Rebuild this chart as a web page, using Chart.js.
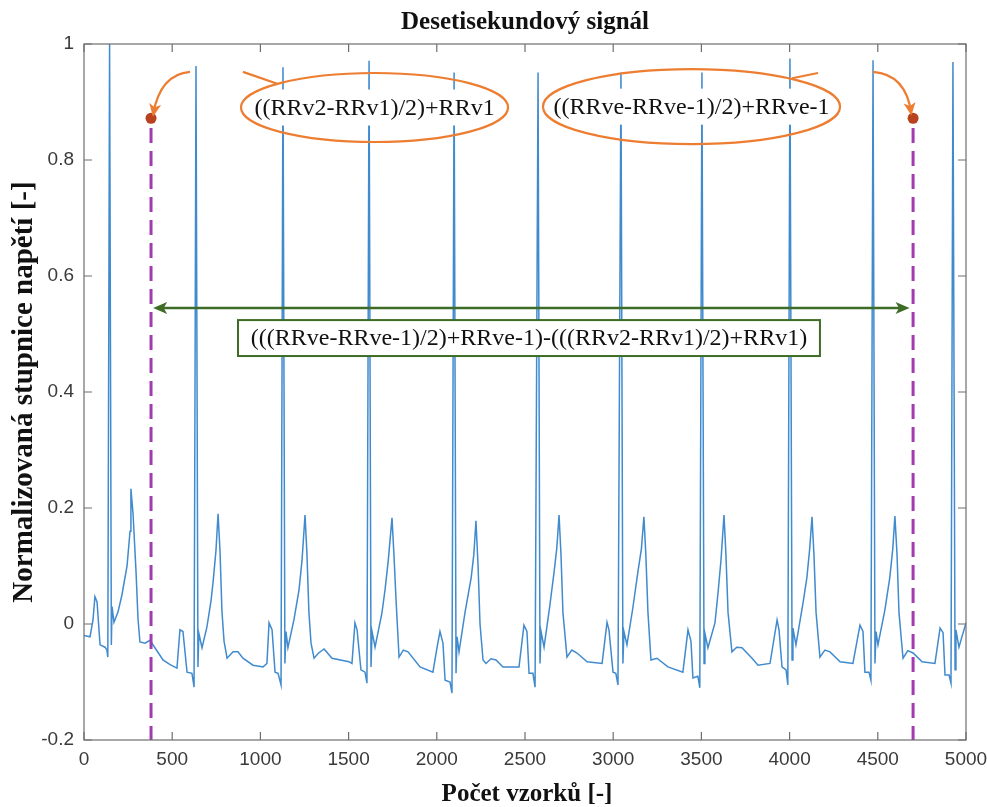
<!DOCTYPE html>
<html><head><meta charset="utf-8">
<script src="https://cdn.jsdelivr.net/npm/chart.js@4.4.0/dist/chart.umd.min.js"></script>
<style>html,body{margin:0;padding:0;background:#fff;}#wrap{width:987px;height:807px;}</style>
</head><body>
<div id="wrap"><canvas id="c" width="987" height="807"></canvas></div>
<script>
// ---- data ----
const sampleIdx = [
  0,34,51,62,74,91,119,130,135,145,155,159,170,193,215,244,261,266,278,295,306,317,346,374,402,448,488,527,544,561,584,612,624,
  635,646,651,669,697,720,731,748,760,771,782,794,811,845,873,901,958,1015,1037,1049,1066,1083,1100,1117,
  1128,1139,1145,1156,1190,1219,1236,1253,1264,1275,1287,1304,1330,1361,1406,1502,1519,1536,1548,1570,1593,1604,
  1616,1627,1633,1650,1689,1707,1725,1746,1757,1769,1786,1810,1837,1905,1978,2001,2018,2035,2047,2075,2086,
  2098,2109,2115,2126,2160,2195,2210,2222,2234,2245,2262,2279,2307,2336,2375,2466,2494,2511,2523,2545,2557,
  2574,2585,2591,2608,2640,2665,2680,2693,2704,2715,2738,2765,2795,2852,2937,2965,2976,2999,3015,3027,
  3044,3055,3061,3078,3110,3140,3160,3174,3185,3197,3214,3248,3310,3395,3424,3441,3452,3480,3491,
  3503,3515,3520,3537,3577,3594,3611,3628,3639,3651,3673,3700,3730,3787,3821,3889,3929,3940,3957,3980,3990,
  4002,4014,4019,4036,4076,4098,4114,4127,4138,4150,4172,4200,4229,4286,4359,4399,4416,4427,4450,4461,
  4473,4484,4490,4501,4540,4568,4585,4597,4609,4620,4643,4670,4700,4751,4824,4853,4870,4881,4904,4915,
  4926,4938,4943,4960,5000
];
const voltage = [
  -0.02,-0.022,0.007,0.047,0.038,-0.036,-0.04,-0.045,-0.057,1.0,-0.036,0.03,0.003,0.021,0.05,0.1,0.16,0.233,0.19,0.09,0.01,-0.031,-0.033,-0.028,-0.041,-0.062,-0.07,-0.076,-0.01,-0.013,-0.083,-0.085,-0.109,
  0.962,-0.074,-0.016,-0.041,-0.005,0.04,0.07,0.126,0.19,0.126,0.022,-0.03,-0.059,-0.048,-0.048,-0.059,-0.071,-0.074,-0.068,0.002,-0.01,-0.083,-0.085,-0.105,
  0.96,-0.068,-0.013,-0.041,0.007,0.059,0.11,0.188,0.12,0.02,-0.033,-0.059,-0.05,-0.043,-0.059,-0.065,-0.068,0.002,-0.01,-0.079,-0.083,-0.102,
  0.971,-0.074,-0.013,-0.04,0.019,0.06,0.11,0.183,0.12,0.041,-0.057,-0.045,-0.048,-0.074,-0.083,-0.041,-0.013,-0.033,-0.097,-0.1,-0.119,
  0.951,-0.085,-0.022,-0.048,0.02,0.08,0.12,0.178,0.1,0.0,-0.062,-0.068,-0.06,-0.062,-0.074,-0.074,-0.002,-0.013,-0.085,-0.085,-0.109,
  0.951,-0.068,-0.013,-0.04,0.03,0.09,0.13,0.188,0.12,0.02,-0.057,-0.045,-0.05,-0.065,-0.068,0.003,-0.01,-0.083,-0.085,-0.105,
  0.951,-0.068,-0.013,-0.036,0.025,0.09,0.13,0.185,0.12,0.02,-0.062,-0.059,-0.074,-0.083,-0.01,-0.03,-0.093,-0.09,-0.11,
  0.951,-0.068,-0.016,-0.041,0.002,0.053,0.11,0.188,0.12,0.02,-0.048,-0.04,-0.041,-0.059,-0.071,-0.068,0.007,-0.01,-0.074,-0.079,-0.105,
  0.975,-0.062,-0.007,-0.036,0.036,0.08,0.13,0.185,0.12,0.02,-0.057,-0.045,-0.048,-0.065,-0.068,-0.002,-0.013,-0.083,-0.083,-0.097,
  0.972,-0.068,-0.013,-0.036,0.024,0.08,0.13,0.186,0.12,0.02,-0.059,-0.046,-0.05,-0.065,-0.068,-0.007,-0.015,-0.088,-0.088,-0.102,
  0.969,-0.079,-0.01,-0.04,0.002
];
const xTicks = [0,500,1000,1500,2000,2500,3000,3500,4000,4500,5000];
const xTickLabels = ['0','500','1000','1500','2000','2500','3000','3500','4000','4500','5000'];
const yTicks = [-0.2,0,0.2,0.4,0.6,0.8,1];
const yTickLabels = ['-0.2','0','0.2','0.4','0.6','0.8','1'];
const boundarySamples = [380, 4700];      // window start / end
const boundaryMarkerValue = [0.872, 0.872];
const boundaryDashTop = 0.855;
const titleText = 'Desetisekundový signál';
const xTitleText = 'Počet vzorků [-]';
const yTitleText = 'Normalizovaná stupnice napětí [-]';
const leftFormula = '((RRv2-RRv1)/2)+RRv1';
const rightFormula = '((RRve-RRve-1)/2)+RRve-1';
const spanFormula = '(((RRve-RRve-1)/2)+RRve-1)-(((RRv2-RRv1)/2)+RRv1)';

// ---- chart ----
const signal = sampleIdx.map((s,i)=>({x:s,y:voltage[i]}));
const serif = '"Liberation Serif", "Times New Roman", serif';
const sans = '"Liberation Sans", Arial, sans-serif';

function arrowHead(ctx, tx, ty, ang, len, half, color){
  ctx.save();
  ctx.translate(tx,ty); ctx.rotate(ang);
  ctx.beginPath(); ctx.moveTo(0,0); ctx.lineTo(-len,-half); ctx.lineTo(-len*0.75,0); ctx.lineTo(-len,half); ctx.closePath();
  ctx.fillStyle=color; ctx.fill(); ctx.restore();
}

const annot = {
  id:'annot',
  afterDatasetsDraw(chart){
    const {ctx, scales:{x,y}} = chart;
    const X=v=>x.getPixelForValue(v), Y=v=>y.getPixelForValue(v);
    const orange = '#ED7D31';
    ctx.save();
    const ells = [
      {cx:1647, cy:0.8905, rx:757, ry:0.0595, text:leftFormula, tail:[[901,0.952],[1100,0.931]],
       arc:[[601,0.952],[431,0.948],[391,0.878]]},
      {cx:3444, cy:0.892, rx:842, ry:0.0647, text:rightFormula, tail:[[4161,0.95],[4014,0.941]],
       arc:[[4473,0.952],[4660,0.948],[4690,0.880]]}
    ];
    ells.forEach(e=>{
      const cx=X(e.cx), cy=Y(e.cy), rx=X(e.cx+e.rx)-cx, ry=Y(e.cy-e.ry)-cy;
      ctx.font = '24px '+serif;
      const w = ctx.measureText(e.text).width;
      ctx.fillStyle='#fff';
      ctx.fillRect(cx-w/2-4, cy-18, w+8, 36);
      ctx.beginPath(); ctx.ellipse(cx,cy,rx,ry,0,0,Math.PI*2);
      ctx.strokeStyle=orange; ctx.lineWidth=2.2; ctx.stroke();
      ctx.fillStyle='#111'; ctx.textAlign='center'; ctx.textBaseline='middle';
      ctx.fillText(e.text, cx, cy+1);
      ctx.beginPath(); ctx.moveTo(X(e.tail[0][0]),Y(e.tail[0][1])); ctx.lineTo(X(e.tail[1][0]),Y(e.tail[1][1]));
      ctx.stroke();
      const p0=e.arc[0], p1=e.arc[1], p2=e.arc[2];
      ctx.beginPath(); ctx.moveTo(X(p0[0]),Y(p0[1]));
      ctx.quadraticCurveTo(X(p1[0]),Y(p1[1]),X(p2[0]),Y(p2[1]));
      ctx.stroke();
      const ang = Math.atan2(Y(p2[1])-Y(p1[1]), X(p2[0])-X(p1[0]));
      arrowHead(ctx, X(p2[0]), Y(p2[1])+2, ang, 13, 6, orange);
    });
    const green = '#3E6B26';
    const gy = Y(0.545), gx0 = X(392), gx1 = X(4680);
    ctx.beginPath(); ctx.moveTo(gx0+8,gy); ctx.lineTo(gx1-8,gy);
    ctx.strokeStyle=green; ctx.lineWidth=2.5; ctx.stroke();
    arrowHead(ctx, gx0, gy, Math.PI, 14, 6, green);
    arrowHead(ctx, gx1, gy, 0, 14, 6, green);
    const bx0=X(873), bx1=X(4172), by0=Y(0.524), by1=Y(0.462);
    ctx.fillStyle='#fff'; ctx.fillRect(bx0,by0,bx1-bx0,by1-by0);
    ctx.strokeStyle=green; ctx.lineWidth=2; ctx.strokeRect(bx0,by0,bx1-bx0,by1-by0);
    ctx.font='24px '+serif; ctx.fillStyle='#111'; ctx.textAlign='center'; ctx.textBaseline='middle';
    ctx.fillText(spanFormula,(bx0+bx1)/2,(by0+by1)/2+1);
    ctx.restore();
  },
  afterDraw(chart){
    const {ctx, chartArea:a, scales:{x,y}} = chart;
    ctx.save();
    ctx.strokeStyle='#6e6e6e'; ctx.lineWidth=1.2;
    ctx.strokeRect(a.left,a.top,a.right-a.left,a.bottom-a.top);
    ctx.beginPath();
    xTicks.forEach(t=>{const px=x.getPixelForValue(t); ctx.moveTo(px,a.bottom); ctx.lineTo(px,a.bottom-8); ctx.moveTo(px,a.top); ctx.lineTo(px,a.top+8);});
    yTicks.forEach(t=>{const py=y.getPixelForValue(t); ctx.moveTo(a.left,py); ctx.lineTo(a.left+8,py); ctx.moveTo(a.right,py); ctx.lineTo(a.right-8,py);});
    ctx.stroke();
    ctx.fillStyle='#111'; ctx.textAlign='center'; ctx.textBaseline='middle';
    ctx.font='bold 25px '+serif;
    ctx.fillText(titleText,(a.left+a.right)/2,23);
    ctx.fillText(xTitleText,(a.left+a.right)/2+2,795);
    ctx.translate(25,392); ctx.rotate(-Math.PI/2);
    ctx.font='bold 29px '+serif;
    ctx.fillText(yTitleText,0,0);
    ctx.restore();
  }
};

new Chart(document.getElementById('c'),{
  type:'scatter',
  data:{datasets:[
    {data:boundarySamples.map((s,i)=>({x:s,y:boundaryMarkerValue[i]})), pointRadius:5.5, pointBackgroundColor:'#B8411E', pointBorderWidth:0, showLine:false, order:0},
    {data:[{x:boundarySamples[0],y:boundaryDashTop},{x:boundarySamples[0],y:-0.2}], showLine:true, borderColor:'#A03CAE', borderWidth:3, borderDash:[15,8], pointRadius:0, order:1},
    {data:[{x:boundarySamples[1],y:boundaryDashTop},{x:boundarySamples[1],y:-0.2}], showLine:true, borderColor:'#A03CAE', borderWidth:3, borderDash:[15,8], pointRadius:0, order:1},
    {data:signal, showLine:true, borderColor:'rgb(64,138,206)', borderWidth:1.5, pointRadius:0, tension:0, order:5}
  ]},
  options:{
    responsive:false, devicePixelRatio:1, animation:false,
    layout:{padding:{top:44,right:21,left:0,bottom:0}},
    plugins:{legend:{display:false}, tooltip:{enabled:false}},
    scales:{
      x:{type:'linear',min:0,max:5000,
        afterBuildTicks(s){s.ticks=xTicks.map(v=>({value:v}));},
        afterFit(s){s.height=67; s.paddingLeft=0; s.paddingRight=0;},
        grid:{display:false,drawTicks:false}, border:{display:false},
        ticks:{padding:8, color:'#3a3a3a', font:{family:sans,size:19}, maxRotation:0, autoSkip:false,
          callback:(v)=>{const i=xTicks.indexOf(v); return i>=0?xTickLabels[i]:'';}}},
      y:{type:'linear',min:-0.2,max:1,
        afterBuildTicks(s){s.ticks=yTicks.map(v=>({value:v}));},
        afterFit(s){s.width=84; s.paddingTop=0; s.paddingBottom=0;},
        grid:{display:false,drawTicks:false}, border:{display:false},
        ticks:{padding:10, color:'#3a3a3a', font:{family:sans,size:19}, autoSkip:false,
          callback:(v)=>{const i=yTicks.findIndex(t=>Math.abs(t-v)<1e-9); return i>=0?yTickLabels[i]:'';}}}
    }
  },
  plugins:[annot]
});
</script>
</body></html>
